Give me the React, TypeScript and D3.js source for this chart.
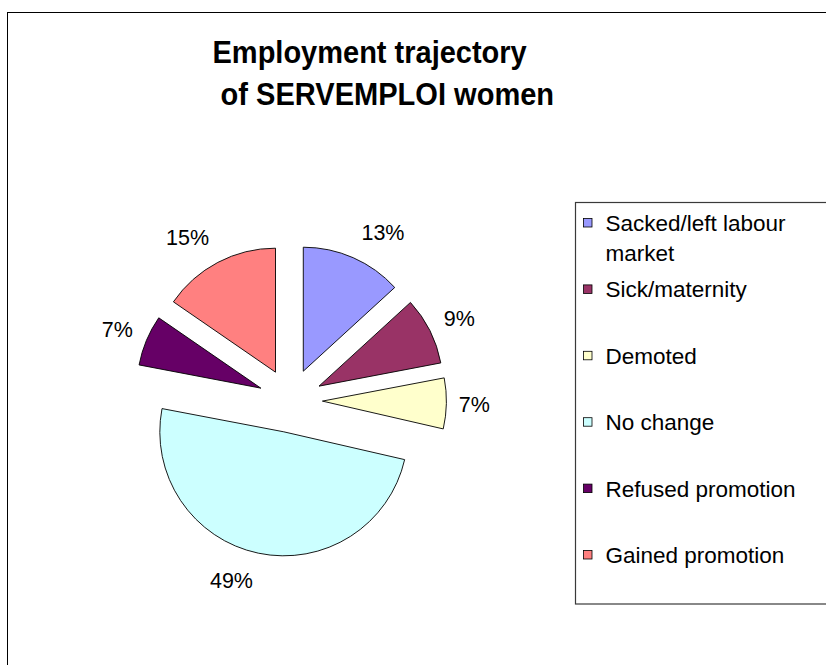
import React from "react";
import * as d3 from "d3";

const categories = [
  "Sacked/left labour market",
  "Sick/maternity",
  "Demoted",
  "No change",
  "Refused promotion",
  "Gained promotion",
];
const legendLines = [
  ["Sacked/left labour", "market"],
  ["Sick/maternity"],
  ["Demoted"],
  ["No change"],
  ["Refused promotion"],
  ["Gained promotion"],
];
const shares = [13.2, 8.8, 6.6, 49.4, 6.6, 15.4];
const colors = ["#9999FF", "#993366", "#FFFFCC", "#CCFFFF", "#660066", "#FF8080"];
const titleLines = ["Employment trajectory", " of SERVEMPLOI women"];

const W = 826;
const H = 665;
const CX = 290.4;
const CY = 400.5;
const R = 124;
const EXPLODE = 32;
const LABEL_R = 184;
const FONT = "Arial, 'Liberation Sans', Helvetica, sans-serif";

export default function App() {
  const pie = d3
    .pie<number>()
    .sort(null)
    .value((d) => d)
    .startAngle(0)
    .endAngle(2 * Math.PI);
  const arcs = pie(shares);
  const arc = d3.arc<d3.PieArcDatum<number>>().innerRadius(0).outerRadius(R);
  const total = d3.sum(shares);

  const legendY = d3
    .scaleLinear()
    .domain([0, categories.length - 1])
    .range([231, 231 + 66.4 * (categories.length - 1)]);

  const labelFs = 21.5;
  const legendFs = 22.5;
  const titleFs = 31;
  // natural advance of the title lines at 29px Arial Bold, used to condense the larger font
  const titleEm = [10.836, 11.78];

  return (
    <svg
      width={W}
      height={H}
      style={{ position: "absolute", left: 0, top: 0, display: "block", background: "#fff" }}
    >
      <rect x={0} y={0} width={W} height={H} fill="#fff" />
      <rect x={7.5} y={12.5} width={W + 50} height={H + 50} fill="none" stroke="#000" strokeWidth={1} />

      {titleLines.map((t, i) => (
        <text
          key={i}
          x={212.5}
          y={63 + i * 41.5}
          fontFamily={FONT}
          fontWeight="bold"
          fontSize={titleFs}
          fill="#000"
          textLength={titleEm[i] * 29}
          lengthAdjust="spacingAndGlyphs"
          style={{ whiteSpace: "pre" }}
        >
          {t}
        </text>
      ))}

      <g>
        {arcs.map((a, i) => {
          const m = (a.startAngle + a.endAngle) / 2;
          const dx = Math.sin(m) * EXPLODE;
          const dy = -Math.cos(m) * EXPLODE;
          return (
            <path
              key={i}
              d={arc(a) || ""}
              transform={`translate(${CX + dx},${CY + dy})`}
              fill={colors[i]}
              stroke="#000"
              strokeWidth={0.9}
              strokeLinejoin="miter"
            />
          );
        })}
      </g>

      <g>
        {arcs.map((a, i) => {
          const m = (a.startAngle + a.endAngle) / 2;
          const s = Math.sin(m);
          const c = Math.cos(m);
          const lx = CX + LABEL_R * s + Math.sign(s) * 22 * c * c;
          const ly = CY - LABEL_R * c;
          const pct = Math.round((shares[i] / total) * 100);
          return (
            <text
              key={i}
              x={lx}
              y={ly + labelFs * 0.36}
              textAnchor="middle"
              fontFamily={FONT}
              fontSize={labelFs}
              fill="#000"
            >
              {pct}%
            </text>
          );
        })}
      </g>

      <g>
        <rect x={575.5} y={202.5} width={300} height={401.5} fill="#fff" stroke="#3a3a3a" strokeWidth={1.2} />
        {categories.map((cat, i) => {
          const y = legendY(i);
          return (
            <g key={cat}>
              <rect
                x={583.5}
                y={y - 8 - 4.5}
                width={8.5}
                height={8.5}
                fill={colors[i]}
                stroke="#000"
                strokeWidth={0.8}
              />
              {legendLines[i].map((ln, j) => (
                <text
                  key={j}
                  x={605.5}
                  y={y + j * 29.5}
                  fontFamily={FONT}
                  fontSize={legendFs}
                  fill="#000"
                >
                  {ln}
                </text>
              ))}
            </g>
          );
        })}
      </g>
    </svg>
  );
}
